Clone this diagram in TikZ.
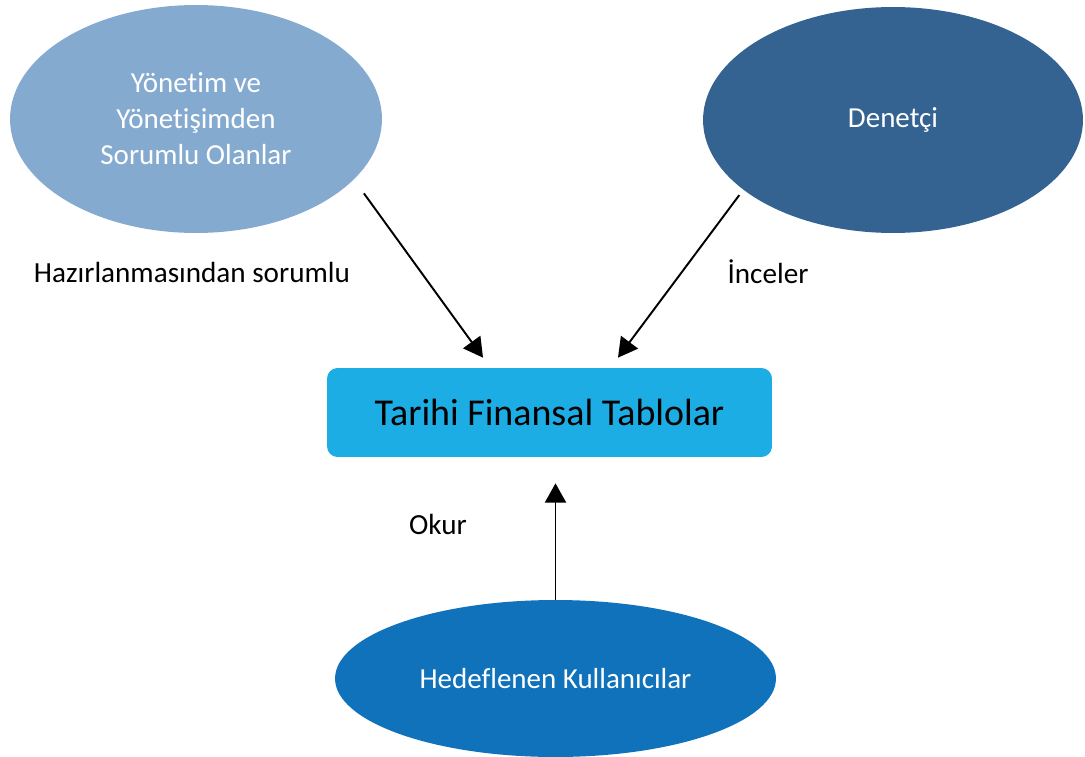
\documentclass[tikz,border=0pt]{standalone}
\usepackage{fontspec}
\setmainfont[Ligatures=NoCommon]{Carlito}
\usetikzlibrary{arrows.meta,shapes.geometric,positioning}

\definecolor{paleblue}{RGB}{133,170,208}
\definecolor{steelblue}{RGB}{53,99,145}
\definecolor{skyblue}{RGB}{28,173,228}
\definecolor{deepblue}{RGB}{15,114,186}

\tikzset{
    party/.style={ellipse,draw=none,text=white,font=\fontsize{16.5}{20.5}\selectfont,align=center,inner sep=0pt},
    tablebox/.style={rectangle,rounded corners=6pt,fill=skyblue,minimum width=8.9cm,minimum height=1.78cm,font=\fontsize{21.6}{25}\selectfont},
    lbl/.style={font=\fontsize{16.6}{19}\selectfont,inner sep=0pt},
    arr/.style={-{Triangle[length=11pt,width=12pt]},line width=1.1pt}
}

\begin{document}
\begin{tikzpicture}[x=0.02cm,y=-0.02cm]
    \useasboundingbox (0,0) rectangle (1085,757);
    \node[party,fill=paleblue,minimum width=7.44cm,minimum height=4.56cm] (YON) at (196,119) {Yönetim ve\\Yönetişimden\\Sorumlu Olanlar};
    \node[party,fill=steelblue,minimum width=7.6cm,minimum height=4.52cm] (DEN) at (893,120) {Denetçi};
    \node[tablebox] (TFT) at (549.5,412.5) {Tarihi Finansal Tablolar};
    \node[party,fill=deepblue,minimum width=8.82cm,minimum height=3.14cm] (HED) at (555.5,678.5) {Hedeflenen Kullanıcılar};
    \coordinate (TL) at ([xshift=-1.33cm,yshift=0.2cm]TFT.north);
    \coordinate (TR) at ([xshift=1.37cm,yshift=0.2cm]TFT.north);
    \draw[arr,shorten <=0.34cm] (YON.-21.2)--(TL);
    \draw[arr,shorten <=0.13cm] (DEN.-155.9)--(TR);
    \draw[arr,shorten >=0.52cm] (HED.north)--(HED.north |- TFT.south);
    \node[lbl] (HAZ) at (192,272) {Hazırlanmasından sorumlu};
    \node[lbl] (INC) at (768,272) {İnceler};
    \node[lbl] (OKU) at (438,524) {Okur};
\end{tikzpicture}
\end{document}
